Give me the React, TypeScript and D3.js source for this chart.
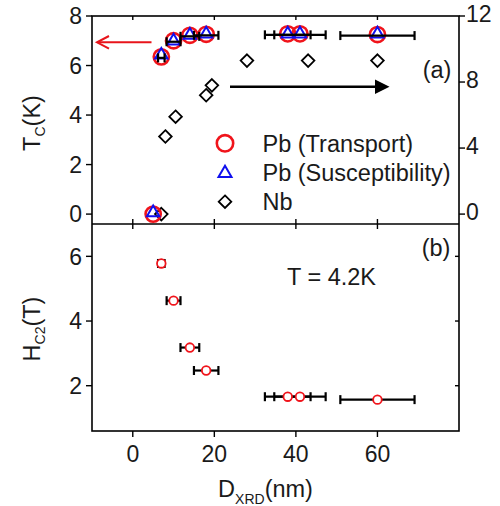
import React from "react";
import * as d3 from "d3";

const pbD = [5, 7, 10, 14, 18, 38, 41, 60];
const pbTcTransport = [0, 6.35, 7.0, 7.22, 7.26, 7.28, 7.28, 7.25];
const pbTcSus = [0.08, 6.45, 7.02, 7.25, 7.3, 7.3, 7.3, 7.3];
const pbErr = [0, 0.8, 1.7, 2.3, 3.0, 5.6, 6.3, 9.1];

const nbD = [7, 8, 10.5, 18, 19.4, 28, 43, 60];
const nbTc = [0, 4.7, 5.9, 7.2, 7.8, 9.3, 9.3, 9.3];

const hD = [7, 10, 14, 18, 38, 41, 60];
const hc2 = [5.78, 4.63, 3.18, 2.47, 1.66, 1.66, 1.57];
const hErr = [0.8, 1.7, 2.3, 3.0, 5.6, 6.3, 9.1];

const xTicks = [0, 20, 40, 60];
const tcTicks = [0, 2, 4, 6, 8];
const nbTicks = [0, 4, 8, 12];
const hTicks = [2, 4, 6];

const legendLabels = ["Pb (Transport)", "Pb (Susceptibility)", "Nb"];

const FONT = "'Liberation Sans', Arial, Helvetica, sans-serif";
const INK = "#1a1a1a";

export default function App() {
  const L = 92, R = 459, TA = 16, BA = 224, BB = 431;
  const x = d3.scaleLinear().domain([-10, 80]).range([L, R]);
  const yA = d3.scaleLinear().domain([-0.4, 8]).range([BA, TA]);
  const yN = d3.scaleLinear().domain([-0.6, 12]).range([BA, TA]);
  const yB = d3.scaleLinear().domain([0.6, 7]).range([BB, BA]);
  const tl = 6;
  const fs = 23;
  const fsT = 23.5;

  const tri = (cx: number, cy: number, s = 1) =>
    `M${cx},${cy - 6.5 * s}L${cx + 6.2 * s},${cy + 4.2 * s}L${cx - 6.2 * s},${cy + 4.2 * s}Z`;
  const dia = (cx: number, cy: number) =>
    `M${cx},${cy - 6.3}L${cx + 6.3},${cy}L${cx},${cy + 6.3}L${cx - 6.3},${cy}Z`;

  const errBar = (cx: number, cy: number, e: number, key: string) => {
    if (e <= 0) return null;
    const x0 = x(cx - e), x1 = x(cx + e);
    return (
      <g key={key} stroke="#000" strokeWidth={2.2}>
        <line x1={x0} x2={x1} y1={cy} y2={cy} />
        <line x1={x0} x2={x0} y1={cy - 4.5} y2={cy + 4.5} />
        <line x1={x1} x2={x1} y1={cy - 4.5} y2={cy + 4.5} />
      </g>
    );
  };

  return (
    <svg width={500} height={506} style={{ position: "absolute", left: 0, top: 0, background: "#fff" }} fontFamily={FONT}>
      <rect x={0} y={0} width={500} height={506} fill="#fff" />
      {/* frames */}
      <g stroke="#000" strokeWidth={1.6} fill="none">
        <rect x={L} y={TA} width={R - L} height={BB - TA} />
        <line x1={L} x2={R} y1={BA} y2={BA} />
      </g>
      {/* x ticks */}
      <g stroke="#000" strokeWidth={1.4}>
        {xTicks.map((t) => (
          <g key={"xt" + t}>
            <line x1={x(t)} x2={x(t)} y1={TA} y2={TA + 4} />
            <line x1={x(t)} x2={x(t)} y1={BA - 5} y2={BA + 5} />
            <line x1={x(t)} x2={x(t)} y1={BB} y2={BB + tl} />
          </g>
        ))}
        {tcTicks.map((t) => (
          <line key={"ta" + t} x1={L - tl} x2={L} y1={yA(t)} y2={yA(t)} />
        ))}
        {nbTicks.map((t) => (
          <line key={"tn" + t} x1={R} x2={R + tl} y1={yN(t)} y2={yN(t)} />
        ))}
        {hTicks.map((t) => (
          <g key={"th" + t}>
            <line x1={L - tl} x2={L} y1={yB(t)} y2={yB(t)} />
            <line x1={R - 4} x2={R} y1={yB(t)} y2={yB(t)} />
          </g>
        ))}
      </g>
      {/* tick labels */}
      <g fontSize={fs} fill={INK}>
        {tcTicks.map((t) => (
          <text key={"la" + t} x={L - 10} y={yA(t)} dy="0.36em" textAnchor="end">{t}</text>
        ))}
        {nbTicks.map((t) => (
          <text key={"ln" + t} x={R + 7} y={yN(t) - 2} dy="0.36em" textAnchor="start">{t}</text>
        ))}
        {hTicks.map((t) => (
          <text key={"lh" + t} x={L - 10} y={yB(t)} dy="0.36em" textAnchor="end">{t}</text>
        ))}
        {xTicks.map((t) => (
          <text key={"lx" + t} x={x(t)} y={462} textAnchor="middle">{t}</text>
        ))}
      </g>
      {/* axis titles */}
      <g fontSize={fsT} fill={INK}>
        <text transform="translate(40,123) rotate(-90)" textAnchor="middle">
          T<tspan fontSize={14} dy={5}>C</tspan><tspan dy={-5}>(K)</tspan>
        </text>
        <text transform="translate(40,329) rotate(-90)" textAnchor="middle">
          H<tspan fontSize={14} dy={5}>C2</tspan><tspan dy={-5}>(T)</tspan>
        </text>
        <text x={265.5} y={497} textAnchor="middle">
          D<tspan fontSize={14} dy={7}>XRD</tspan><tspan dy={-7}>(nm)</tspan>
        </text>
        <text x={437} y={78} textAnchor="middle">(a)</text>
        <text x={436} y={256} textAnchor="middle">(b)</text>
        <text x={331.5} y={284.5} textAnchor="middle">T = 4.2K</text>
      </g>
      {/* arrows */}
      <g>
        <line x1={151.5} x2={97.5} y1={42.3} y2={42.3} stroke="#e8141b" strokeWidth={2} />
        <path d="M109,36L97,42.3L109,48.6" fill="none" stroke="#e8141b" strokeWidth={2} />
        <line x1={230} x2={378} y1={86.7} y2={86.7} stroke="#000" strokeWidth={2.6} />
        <path d="M375,79.5L389.5,86.7L375,94Z" fill="#000" />
      </g>
      {/* panel a markers */}
      <g fill="none" stroke="#000" strokeWidth={1.8}>
        {nbD.map((d, i) => (
          <path key={"nb" + i} d={dia(x(d), yN(nbTc[i]))} />
        ))}
      </g>
      <g fill="none" stroke="#f0141b" strokeWidth={2.6}>
        {pbD.map((d, i) => (
          <circle key={"pc" + i} cx={x(d)} cy={yA(pbTcTransport[i])} r={7.6} />
        ))}
      </g>
      <g fill="none" stroke="#1010ee" strokeWidth={2}>
        {pbD.map((d, i) => (
          <path key={"pt" + i} d={tri(x(d), yA(pbTcSus[i]))} />
        ))}
      </g>
      <g>
        {pbD.map((d, i) => errBar(d, yA(pbTcTransport[i]) + 1, pbErr[i], "ea" + i))}
      </g>
      {/* legend */}
      <g>
        <circle cx={225} cy={143.3} r={8.2} fill="none" stroke="#f0141b" strokeWidth={2.6} />
        <path d={tri(225, 172.5, 1.05)} fill="none" stroke="#1010ee" strokeWidth={2} />
        <path d={dia(225, 201.7)} fill="none" stroke="#000" strokeWidth={1.8} />
        {legendLabels.map((l, i) => (
          <text key={"lg" + i} x={262.5} y={151.7 + i * 29.2} fontSize={fsT} fill={INK}>{l}</text>
        ))}
      </g>
      {/* panel b */}
      <g>
        {hD.map((d, i) => errBar(d, yB(hc2[i]), hErr[i], "eb" + i))}
      </g>
      <g fill="#fff" stroke="#f0141b" strokeWidth={1.8}>
        {hD.map((d, i) => (
          <circle key={"hc" + i} cx={x(d)} cy={yB(hc2[i])} r={4.3} />
        ))}
      </g>
    </svg>
  );
}
